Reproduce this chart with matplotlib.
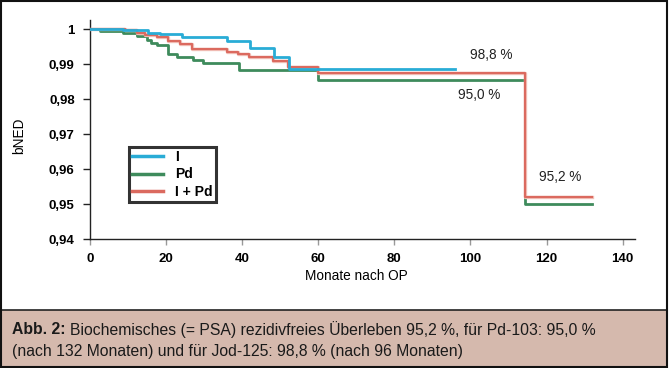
import matplotlib.pyplot as plt
import matplotlib.patheffects as pe
from matplotlib.patches import Rectangle

# Kaplan-Meier Stufen (Monate, bNED)
i_t = [0, 8.7, 15.3, 18.4, 24.1, 35.9, 42.0, 48.4, 52.4, 96]
i_s = [1.0, 0.9998, 0.9991, 0.9986, 0.9979, 0.9967, 0.9946, 0.9920, 0.9887, 0.9887]

pd_t = [0, 2.6, 8.8, 12.3, 14.9, 16.0, 17.5, 20.6, 22.8, 27.2, 29.8, 39.2, 60, 114.3, 132]
pd_s = [1.0, 0.9996, 0.9989, 0.9981, 0.9971, 0.9962, 0.9955, 0.9931, 0.9920, 0.9914,
        0.9903, 0.9885, 0.9855, 0.9500, 0.9500]

ipd_t = [0, 9.2, 12.3, 14.5, 17.5, 20.6, 23.7, 26.9, 35.9, 39.0, 41.9, 48.2, 52.1, 60, 114.3, 132]
ipd_s = [1.0, 0.9997, 0.9991, 0.9984, 0.9977, 0.9967, 0.9957, 0.9945, 0.9936, 0.9929,
         0.9922, 0.9910, 0.9893, 0.9876, 0.9522, 0.9522]

xticks = [0, 20, 40, 60, 80, 100, 120, 140]
yticks = [0.94, 0.95, 0.96, 0.97, 0.98, 0.99, 1.0]
ylabels = ['0,94', '0,95', '0,96', '0,97', '0,98', '0,99', '1']

plt.rcParams['font.family'] = ['Liberation Sans', 'DejaVu Sans']

fig = plt.figure(figsize=(6.69, 3.68), dpi=100)
ax = fig.add_axes([0.1345, 0.3497, 0.8145, 0.596])

c_blue = '#29acd6'
c_green = '#3e8b5c'
c_red = '#db6a5f'

ax.step(pd_t, pd_s, where='post', color=c_green, lw=2.0, label='Pd', zorder=2)
ax.step(ipd_t, ipd_s, where='post', color=c_red, lw=1.6, label='I + Pd', zorder=3,
        path_effects=[pe.Stroke(linewidth=2.4, foreground='#f3c4bd'), pe.Normal()])
ax.step(i_t, i_s, where='post', color=c_blue, lw=2.0, label='I', zorder=4)

ax.set_xlim(0, 143.2)
ax.set_ylim(0.94, 1.0027)
ax.set_xticks(xticks)
ax.set_xticklabels([str(v) for v in xticks], fontweight='bold', fontsize=9.5)
ax.set_yticks(yticks)
ax.set_yticklabels(ylabels, fontweight='bold', fontsize=9.5)
ax.tick_params(axis='x', direction='out', length=4, color='#999999', width=1, pad=6)
ax.tick_params(axis='y', direction='out', length=5, color='#222222', width=1, pad=6)

for s in ['top', 'right']:
    ax.spines[s].set_visible(False)
for s in ['left', 'bottom']:
    ax.spines[s].set_color('#222222')
    ax.spines[s].set_linewidth(1.0)

ax.set_ylabel('bNED', fontsize=9.8)
ax.yaxis.set_label_coords(-0.117, 0.47)
ax.set_xlabel('Monate nach OP', fontsize=9.8)
ax.xaxis.set_label_coords(0.488, -0.135)

ax.text(105.4, 0.9927, '98,8 %', fontsize=9.8, ha='center', va='center', color='#222222')
ax.text(102.2, 0.9812, '95,0 %', fontsize=9.8, ha='center', va='center', color='#222222')
ax.text(123.5, 0.9577, '95,2 %', fontsize=9.8, ha='center', va='center', color='#222222')

handles, labels = ax.get_legend_handles_labels()
order = [2, 0, 1]
leg = ax.legend([handles[k] for k in order], [labels[k] for k in order],
                loc='upper left', bbox_to_anchor=(0.071, 0.423), frameon=True,
                fancybox=False, edgecolor='black', handlelength=2.2, handletextpad=0.9,
                borderpad=0.25, borderaxespad=0, labelspacing=0.25,
                prop={'weight': 'bold', 'size': 10})
leg.get_frame().set_linewidth(2.2)
for line in leg.get_lines():
    line.set_path_effects([])
    line.set_linewidth(2.5)

# Bildunterschrift
fig.patches.append(Rectangle((0.0, 0.003), 0.997, 0.155, transform=fig.transFigure,
                             facecolor='#d5b9ad', edgecolor='#222222', lw=1.2))
fig.patches.append(Rectangle((0.0015, 0.003), 0.996, 0.994, transform=fig.transFigure,
                             facecolor='none', edgecolor='#111111', lw=1.5))

cap_size = 11.3
t1 = fig.text(0.018, 0.104, 'Abb. 2:', fontsize=cap_size, fontweight='bold',
              va='center', color='#1a1a1a')
fig.canvas.draw()
bb = t1.get_window_extent()
x_next = (bb.x1 + 4) / fig.bbox.width
fig.text(x_next, 0.104, 'Biochemisches (= PSA) rezidivfreies Überleben 95,2 %, für Pd-103: 95,0 %',
         fontsize=cap_size, va='center', color='#1a1a1a')
fig.text(0.018, 0.045, '(nach 132 Monaten) und für Jod-125: 98,8 % (nach 96 Monaten)',
         fontsize=cap_size, va='center', color='#1a1a1a')

fig.savefig('out.png', dpi=100)
